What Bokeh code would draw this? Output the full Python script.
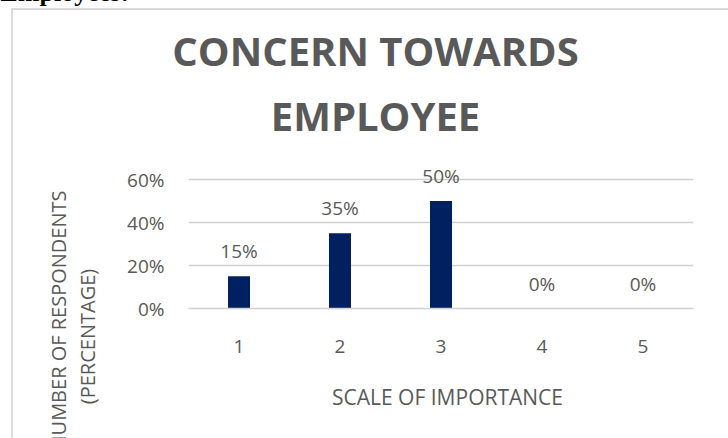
import math
from bokeh.plotting import figure
from bokeh.models import ColumnDataSource, FixedTicker, Label, NumeralTickFormatter, Range1d, FactorRange
from bokeh.core.properties import value
from bokeh.embed import file_html
from bokeh.resources import INLINE

categories = ["1", "2", "3", "4", "5"]
percentages = [0.15, 0.35, 0.50, 0.0, 0.0]
value_labels = ["15%", "35%", "50%", "0%", "0%"]
y_ticks = [0.0, 0.2, 0.4, 0.6]

doc_heading = "Employees:"
title_lines = ["CONCERN TOWARDS", "EMPLOYEE"]
x_title = "SCALE OF IMPORTANCE"
y_title_lines = ["NUMBER OF RESPONDENTS", "(PERCENTAGE)"]

TXT = "#595959"
GRID = "#d0d0d0"
BOX = "#d9d9d9"
FONT = "Open Sans"

src = ColumnDataSource(dict(cat=categories, val=percentages, lab=value_labels))

# frame: left 188, right 693, top 160, bottom 308 (page px); 215 px per 100%
FL, FR, FT, FB = 188, 693, 160, 308
p = figure(width=728, height=438, x_range=FactorRange(*categories),
           y_range=Range1d(0, (FB - FT) / 215), output_backend="svg", toolbar_location=None,
           min_border_left=FL, min_border_right=728 - FR, min_border_top=FT, min_border_bottom=438 - FB)
p.outline_line_color = None
p.background_fill_color = "white"
p.border_fill_color = None
# chart-box edges (left and top) of the embedded chart, drawn behind the transparent canvas border
p.styles = {
    "background": (f"linear-gradient({BOX}, {BOX}) 11px 8px / 2px 440px no-repeat, "
                   f"linear-gradient({BOX}, {BOX}) 11px 8px / 730px 2px no-repeat, white"),
}

p.vbar(x="cat", top="val", width=0.218, source=src, fill_color="#002060", line_color=None)
p.text(x="cat", y="val", text="lab", source=src, y_offset=-25, text_align="center",
       text_baseline="alphabetic", text_font=value(FONT), text_font_size="19px", text_color=TXT)

p.xgrid.grid_line_color = None
p.ygrid.grid_line_color = GRID
p.ygrid.grid_line_width = 1.5

p.yaxis.ticker = FixedTicker(ticks=y_ticks)
p.yaxis.formatter = NumeralTickFormatter(format="0%")
p.yaxis.axis_line_color = None
p.yaxis.major_tick_line_color = None
p.yaxis.minor_tick_line_color = None
p.yaxis.major_tick_in = 0
p.yaxis.major_tick_out = 0
p.yaxis.major_label_standoff = 24
p.yaxis.major_label_text_font = FONT
p.yaxis.major_label_text_font_size = "19px"
p.yaxis.major_label_text_color = TXT

p.xaxis.axis_line_color = GRID
p.xaxis.axis_line_width = 1.5
p.xaxis.major_tick_line_color = None
p.xaxis.minor_tick_line_color = None
p.xaxis.major_tick_in = 0
p.xaxis.major_tick_out = 0
p.xaxis.major_label_standoff = 31
p.xaxis.major_label_text_font = FONT
p.xaxis.major_label_text_font_size = "19px"
p.xaxis.major_label_text_color = TXT


def lab(side, text, x, y, size, bold=False, angle=0.0, font=FONT, color=TXT, align="center"):
    p.add_layout(Label(x=x, y=y, x_units="screen", y_units="screen", text=text,
                       text_align=align, text_baseline="alphabetic", angle=angle,
                       text_font=font, text_font_size=size, text_color=color,
                       text_font_style="bold" if bold else "normal"), side)


# above stack: innermost first (positions relative to each panel's bottom-left)
lab("above", title_lines[1], 375 - FL, 44.8, "40px", bold=True)
lab("above", title_lines[0], 375 - FL, 54.6, "40px", bold=True)
lab("above", doc_heading, 0 - FL, 58.5, "26px", bold=True,
    font="Liberation Serif", color="black", align="left")

# left stack after the y axis; rotated labels
lab("left", y_title_lines[1], -10, FB - 336, "20px", angle=math.pi / 2)
lab("left", y_title_lines[0], -12, FB - 190, "20px", angle=math.pi / 2, align="right")

# below stack after the x axis
lab("below", x_title, 447 - FL, -13, "21px")

open("out.html", "w").write(file_html(p, INLINE))
